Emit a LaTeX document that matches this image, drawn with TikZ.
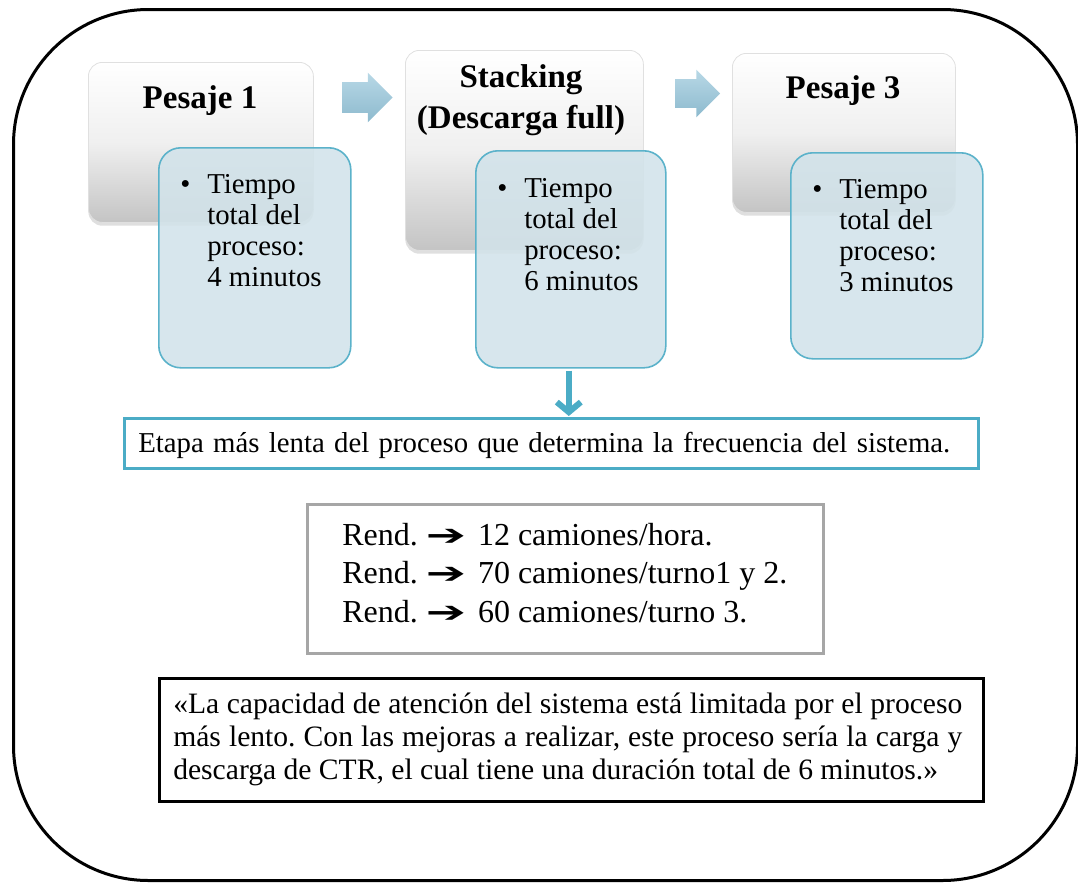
\documentclass[tikz,border=0pt]{standalone}
\usepackage{fontspec}
\setmainfont{Liberation Serif}
\newfontfamily\symfont{DejaVu Sans}
\usetikzlibrary{shapes.arrows,shadows,arrows.meta,calc}
\definecolor{bluefill}{HTML}{D2E3EA}
\definecolor{blueline}{HTML}{5BB2CA}
\definecolor{accent}{HTML}{4BACC6}
\definecolor{arrtop}{HTML}{B8D8E6}
\definecolor{arrbot}{HTML}{8DBACE}
\definecolor{graybot}{HTML}{C4C4C4}
\definecolor{rendline}{HTML}{A6A6A6}
\newcommand\pxu{0.75pt}
\newcommand\rarr{\hspace{6pt}{\symfont\bfseries\fontsize{20pt}{20pt}\selectfont\scalebox{1.8}[1.1]{➔}}\hspace{9pt}}
\frenchspacing
\begin{document}
\begin{tikzpicture}[x=0.75pt,y=-0.75pt,
  frame/.style={draw=black, line width=3*\pxu, rounded corners=135*\pxu, anchor=north west, inner sep=0},
  graybox/.style={anchor=north west, inner sep=0, rounded corners=14*\pxu, draw=white!88!black, line width=0.8*\pxu,
     top color=white, bottom color=graybot, middle color=white!94!black,
     drop shadow={shadow xshift=0pt, shadow yshift=-2.5pt, opacity=0.25}},
  bluebox/.style={anchor=north west, inner sep=0, rounded corners=22*\pxu, draw=blueline, line width=1.6*\pxu,
     fill=bluefill, fill opacity=0.88},
  rarrow/.style={single arrow, inner xsep=0, draw=none, top color=arrtop, bottom color=arrbot,
     single arrow head extend=9.5*\pxu, shape border rotate=0},
  head/.style={font=\bfseries\fontsize{24.75pt}{30.75pt}\selectfont, inner sep=0, align=center},
  bodytext/.style={font=\fontsize{21.6pt}{23.25pt}\selectfont, inner sep=0, anchor=base west},
  plainbox/.style={anchor=north west, inner sep=0, line width=3*\pxu},
  downarr/.style={draw=accent, line width=6*\pxu, -{Straight Barb[length=10*\pxu, width=24*\pxu]}}
]
\useasboundingbox (0,0) rectangle (1078,882);

% outer frame
\node[frame, minimum width=1064*\pxu, minimum height=871*\pxu] (frame) at (12,8) {};

% gray step boxes
\node[graybox, minimum width=225*\pxu, minimum height=160*\pxu] (g1) at (88,62) {};
\node[graybox, minimum width=238*\pxu, minimum height=200*\pxu] (g2) at (405,50) {};
\node[graybox, minimum width=223*\pxu, minimum height=159*\pxu] (g3) at (732,53) {};

\node[head, anchor=base] (h1) at (200,108) {Pesaje 1};
\node[head, anchor=base] (h2) at (521,87) {\begin{tabular}[t]{@{}c@{}}Stacking\\(Descarga full)\end{tabular}};
\node[head, anchor=base] (h3) at (843,98) {Pesaje 3};

% arrows between steps
\node[rarrow, inner ysep=15*\pxu, minimum height=50*\pxu] (a1) at (360,97.5) {};
\node[rarrow, inner ysep=14*\pxu, minimum height=45*\pxu] (a2) at (690.5,93.5) {};

% blue detail boxes
\node[bluebox, minimum width=192*\pxu, minimum height=220*\pxu] (b1) at (158,147) {};
\node[bluebox, minimum width=190*\pxu, minimum height=217*\pxu] (b2) at (475,150) {};
\node[bluebox, minimum width=192*\pxu, minimum height=206*\pxu] (b3) at (790,152) {};

\node[bodytext] (t1) at (180,193) {\begin{tabular}[t]{@{}l@{}}\makebox[20.25pt][l]{\textbullet}Tiempo\\\hspace*{20.25pt}total del\\\hspace*{20.25pt}proceso:\\\hspace*{20.25pt}4 minutos\end{tabular}};
\node[bodytext] (t2) at (497,197) {\begin{tabular}[t]{@{}l@{}}\makebox[20.25pt][l]{\textbullet}Tiempo\\\hspace*{20.25pt}total del\\\hspace*{20.25pt}proceso:\\\hspace*{20.25pt}6 minutos\end{tabular}};
\node[bodytext] (t3) at (812,198) {\begin{tabular}[t]{@{}l@{}}\makebox[20.25pt][l]{\textbullet}Tiempo\\\hspace*{20.25pt}total del\\\hspace*{20.25pt}proceso:\\\hspace*{20.25pt}3 minutos\end{tabular}};

% slowest stage box
\node[plainbox, draw=accent, minimum width=854*\pxu, minimum height=50*\pxu] (etapa) at (123,417) {};
\node[bodytext] (etapat) at (138,452) {\makebox[609pt][s]{Etapa más lenta del proceso que determina la frecuencia del sistema.}};
\draw[downarr] ($(b2.south)+(-2,2)$) -- ($(b2.south |- etapa.north)+(-2,-1)$);

% rendimiento box
\node[plainbox, draw=rendline, minimum width=516*\pxu, minimum height=149*\pxu] (rend) at (306,503) {};
\node[bodytext, font=\fontsize{24pt}{28.9pt}\selectfont] (rendt) at (342,545) {\begin{tabular}[t]{@{}l@{}}Rend.\rarr12 camiones/hora.\\Rend.\rarr70 camiones/turno1 y 2.\\Rend.\rarr60 camiones/turno 3.\end{tabular}};

% quote box
\node[plainbox, draw=black, minimum width=824*\pxu, minimum height=123*\pxu] (quote) at (158,677) {};
\node[bodytext, font=\fontsize{22.2pt}{24.75pt}\selectfont] (quotet) at (173,713) {\begin{tabular}[t]{@{}l@{}}\makebox[591.75pt][s]{«La capacidad de atención del sistema está limitada por el proceso}\\\makebox[591.75pt][s]{más lento. Con las mejoras a realizar, este proceso sería la carga y}\\descarga de CTR, el cual tiene una duración total de 6 minutos.»\end{tabular}};
\end{tikzpicture}
\end{document}
